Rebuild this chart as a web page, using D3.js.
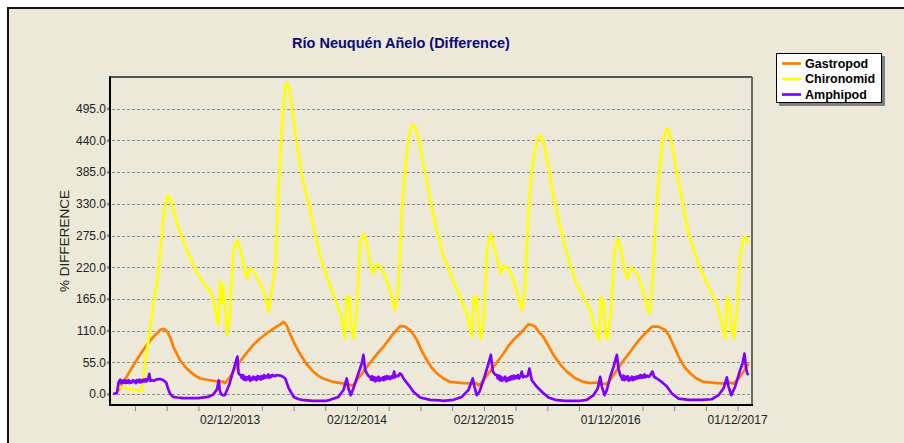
<!DOCTYPE html>
<html><head><meta charset="utf-8">
<script src="https://cdn.jsdelivr.net/npm/d3@7"></script>
<style>body{margin:0;background:#fff;} svg{display:block;}</style>
</head><body>
<svg id="c" width="904" height="443"></svg>
<script>
const title = "Río Neuquén Añelo (Difference)";
const yLabel = "% DIFFERENCE";
const seriesNames = ["Gastropod", "Chironomid", "Amphipod"];
const seriesColors = ["#FF8000", "#FFFF00", "#8000FF"];
const yTicks = [0, 55, 110, 165, 220, 275, 330, 385, 440, 495];
// x in months after 02/12/2012
const xTickMonths = [3,6,9,12,15,18,21,24,27,30,33,36,39,42,45,48,51,54,57,60];
const xLabelMonths = [12, 24, 36, 48, 60];
const xLabels = ["02/12/2013", "02/12/2014", "02/12/2015", "01/12/2016", "01/12/2017"];

const gastropod = [[1.45,5],[1.59,13],[2.22,30],[2.85,50],[3.48,68],[4.11,85],[4.74,99],[5.37,111],[5.6,113],[5.85,112],[6.1,107],[6.4,95],[6.63,82],[7.27,59],[7.8,46],[8.21,39],[8.7,32],[9.16,27],[10.1,24],[11.04,21],[11.3,22],[11.5,19],[11.7,23],[11.98,30],[12.45,43],[12.92,56],[13.55,71],[14.18,85],[14.8,96],[15.44,105],[15.9,111],[16.39,117],[16.7,120],[17.02,125],[17.2,123],[17.4,117],[17.65,105],[18.1,87],[18.6,70],[19.2,53],[19.86,39],[20.3,32],[20.8,27],[21.75,21],[22.5,19],[23.0,18],[23.35,16],[23.6,14],[23.98,24],[24.61,39],[25.1,51],[25.56,62],[26.0,72],[26.5,82],[27.0,94],[27.45,105],[27.8,112],[28.08,118],[28.55,117],[29.03,111],[29.3,104],[29.66,94],[30.1,76],[30.6,59],[31.05,46],[31.55,36],[32.2,27],[32.81,21],[34.07,19],[35.01,18],[35.3,19],[35.49,15],[35.7,18],[35.96,24],[36.4,35],[36.91,47],[37.4,59],[37.85,70],[38.3,83],[38.8,94],[39.3,103],[39.74,111],[40.0,117],[40.22,121],[40.5,120],[40.85,117],[41.2,108],[41.63,99],[42.1,84],[42.58,68],[43.2,52],[43.84,39],[44.6,28],[45.42,21],[46.05,19],[46.68,20],[47.31,18],[47.6,17],[47.94,24],[48.4,37],[48.89,50],[49.36,62],[49.84,73],[50.3,85],[50.78,96],[51.1,102],[51.41,108],[51.89,117],[52.52,117],[53.15,111],[53.5,102],[53.78,91],[54.2,74],[54.57,59],[55.0,46],[55.52,36],[56.1,27],[56.78,21],[58.04,19],[58.99,18],[59.3,20],[59.62,18],[60.1,27],[60.57,39],[61.04,53]];

const chironomid = [[1.3,2],[1.45,13],[2.0,11],[2.5,9],[3.0,7],[3.5,5],[3.64,5],[3.95,53],[4.43,111],[4.74,157],[5.12,197],[5.45,260],[5.75,315],[6.05,342],[6.2,345],[6.45,332],[6.91,301],[7.54,267],[8.17,238],[8.81,212],[9.6,189],[10.18,177],[10.49,157],[10.87,119],[11.0,160],[11.06,196],[11.18,165],[11.28,158],[11.38,188],[11.55,140],[11.73,102],[11.98,134],[12.3,249],[12.68,267],[13.03,246],[13.35,215],[13.64,200],[13.79,218],[14.27,212],[14.84,192],[15.32,169],[15.64,143],[15.95,180],[16.27,220],[16.52,330],[16.75,417],[17.0,492],[17.22,535],[17.4,540],[17.6,528],[18.18,451],[18.81,376],[19.45,330],[20.08,272],[20.51,240],[21.3,195],[22.09,157],[22.5,135],[22.88,96],[23.03,168],[23.19,157],[23.29,168],[23.41,122],[23.66,96],[23.98,145],[24.29,261],[24.61,278],[24.93,261],[25.24,226],[25.56,209],[25.87,226],[26.34,218],[26.82,197],[27.29,168],[27.61,145],[27.92,185],[28.24,318],[28.55,388],[28.87,445],[29.18,466],[29.43,466],[29.81,445],[30.29,399],[30.76,353],[31.39,295],[32.18,238],[32.97,203],[33.75,168],[34.39,140],[34.86,99],[35.02,168],[35.17,157],[35.33,168],[35.58,105],[35.74,96],[36.03,145],[36.34,261],[36.66,278],[37.07,249],[37.38,226],[37.6,209],[37.85,223],[38.33,218],[38.8,197],[39.27,168],[39.59,145],[39.9,185],[40.22,318],[40.54,388],[40.85,425],[41.2,449],[41.45,446],[41.64,438],[42.11,394],[42.58,342],[43.22,290],[43.85,244],[44.63,197],[45.42,168],[46.05,145],[46.53,111],[46.9,93],[47.03,168],[47.16,157],[47.31,163],[47.54,99],[47.72,96],[48.04,145],[48.36,249],[48.67,270],[48.99,249],[49.3,215],[49.59,200],[49.9,220],[50.47,209],[50.94,186],[51.35,157],[51.64,140],[51.89,180],[52.2,284],[52.52,370],[52.83,428],[53.15,457],[53.4,460],[53.72,440],[54.1,399],[54.73,336],[55.36,278],[56.3,226],[57.25,186],[58.04,157],[58.51,122],[58.83,96],[59.02,168],[59.14,160],[59.3,150],[59.45,110],[59.62,96],[59.93,145],[60.24,238],[60.56,272],[60.78,272],[60.97,261]];

const amphipod = [[0.95,0],[1.3,2],[1.45,20],[1.6,25],[1.7,19],[1.8,23],[1.9,20],[2.0,24],[2.1,19],[2.2,23],[2.3,20],[2.4,24],[2.5,19],[2.6,22],[2.7,20],[2.8,24],[2.9,21],[3.0,23],[3.1,19],[3.2,24],[3.3,21],[3.4,25],[3.5,20],[3.6,24],[3.7,21],[3.8,25],[3.9,22],[4.0,26],[4.1,22],[4.25,26],[4.36,35],[4.45,23],[4.6,24],[4.8,23],[5.0,25],[5.2,26],[5.4,26],[5.7,24],[5.95,20],[6.15,8],[6.35,0],[6.6,-5],[7.0,-6],[7.5,-7],[9.0,-7],[9.9,-5],[10.4,-1],[10.75,8],[10.93,24],[11.02,6],[11.15,0],[11.3,-2],[11.5,-2],[11.95,18],[12.45,50],[12.69,65],[12.8,36],[12.95,33],[13.0,33],[13.1,28],[13.2,33],[13.3,25],[13.4,30],[13.5,24],[13.6,29],[13.7,26],[13.8,31],[13.9,23],[14.0,28],[14.1,25],[14.2,30],[14.3,26],[14.4,29],[14.5,24],[14.6,31],[14.7,27],[14.8,30],[14.9,25],[15.0,31],[15.1,27],[15.2,33],[15.3,28],[15.4,31],[15.5,29],[15.6,34],[15.7,28],[15.8,32],[15.9,30],[16.0,33],[16.2,31],[16.43,33],[16.75,32],[17.0,30],[17.22,27],[17.54,10],[18.02,-5],[18.5,-9],[18.81,-10],[19.76,-12],[21.0,-12],[21.46,-10],[22.24,-5],[22.72,7],[23.03,27],[23.19,10],[23.41,-2],[23.66,10],[24.14,36],[24.45,53],[24.61,68],[24.77,42],[24.93,36],[25.1,31],[25.24,30],[25.35,25],[25.45,31],[25.55,24],[25.65,29],[25.75,22],[25.85,28],[25.95,24],[26.05,30],[26.15,23],[26.25,27],[26.35,25],[26.45,29],[26.55,24],[26.65,30],[26.75,26],[26.85,31],[26.95,27],[27.05,30],[27.15,26],[27.3,31],[27.4,28],[27.51,39],[27.6,29],[27.75,32],[27.9,31],[28.05,36],[28.24,33],[28.4,27],[28.87,16],[29.34,4],[29.97,-6],[30.92,-10],[31.9,-11],[32.18,-12],[33.12,-10],[33.91,-5],[34.54,7],[34.95,27],[35.11,13],[35.33,-2],[35.58,4],[35.96,24],[36.44,53],[36.66,68],[36.85,39],[37.05,34],[37.22,33],[37.32,27],[37.42,32],[37.52,24],[37.62,30],[37.72,23],[37.82,28],[37.92,25],[38.02,30],[38.12,22],[38.22,27],[38.32,24],[38.42,29],[38.52,25],[38.62,31],[38.72,26],[38.82,32],[38.92,27],[39.02,31],[39.12,28],[39.22,33],[39.32,27],[39.45,31],[39.59,39],[39.7,29],[39.85,31],[40.0,30],[40.15,32],[40.31,44],[40.53,24],[41.0,13],[41.48,4],[42.11,-6],[42.74,-10],[43.69,-12],[44.95,-12],[45.74,-10],[46.37,-2],[46.78,10],[47.0,30],[47.16,13],[47.41,-2],[47.63,7],[47.95,30],[48.26,47],[48.58,68],[48.73,44],[48.9,33],[48.99,30],[49.1,25],[49.2,32],[49.3,24],[49.4,30],[49.5,26],[49.6,31],[49.7,23],[49.8,28],[49.9,25],[50.0,30],[50.1,24],[50.2,29],[50.3,26],[50.4,30],[50.5,27],[50.6,31],[50.7,28],[50.8,33],[50.9,28],[51.0,32],[51.1,29],[51.2,34],[51.3,29],[51.45,32],[51.6,30],[51.75,33],[51.95,39],[52.1,30],[52.36,27],[52.83,21],[53.31,13],[53.78,1],[54.41,-8],[55.36,-10],[56.62,-10],[57.56,-9],[58.19,-2],[58.67,10],[58.98,29],[59.14,13],[59.4,-2],[59.77,13],[60.24,42],[60.47,53],[60.65,70],[60.78,47],[60.9,36],[61.03,33]];

const seriesData = [gastropod, chironomid, amphipod];

const svg = d3.select("#c");
const W = 904, H = 443;
const L = 110, R = 752, T = 77, B = 405;
const FONT = "Liberation Sans, Arial, sans-serif";

// background & outer frame
svg.append("rect").attr("x", 0).attr("y", 0).attr("width", W).attr("height", H).attr("fill", "#fff");
svg.append("rect").attr("x", 8).attr("y", 8).attr("width", W).attr("height", H).attr("fill", "#ECE9D8")
  .attr("stroke", "#111").attr("stroke-width", 2);

const x = d3.scaleLinear().domain([0.64, 61.36]).range([L, R]);
const y = d3.scaleLinear().domain([-19, 550]).range([B, T]);

// title
svg.append("text").attr("x", 401).attr("y", 48).attr("text-anchor", "middle")
  .attr("font-family", FONT).attr("font-weight", "bold")
  .attr("font-size", 14.5).attr("fill", "#0A0A7A").text(title);

// gridlines
svg.append("g").selectAll("line").data(yTicks).join("line")
  .attr("x1", L + 2).attr("x2", R).attr("y1", d => Math.round(y(d)) + 0.5).attr("y2", d => Math.round(y(d)) + 0.5)
  .attr("stroke", "#8a8a8a").attr("stroke-width", 1).attr("stroke-dasharray", "3,2");

// y axis via d3
const yAxis = d3.axisLeft(y).tickValues(yTicks).tickFormat(d3.format(".1f")).tickSize(0).tickPadding(4);
const gy = svg.append("g").attr("transform", `translate(${L},0)`).call(yAxis);
gy.select(".domain").remove();
gy.selectAll("text").attr("font-family", FONT).attr("font-size", 12).attr("fill", "#222");
svg.append("g").selectAll("rect").data(yTicks).join("rect")
  .attr("x", L - 3).attr("y", d => y(d) - 1).attr("width", 3).attr("height", 2.5).attr("fill", "#888");

// x axis
const xAxis = d3.axisBottom(x).tickValues(xTickMonths).tickSize(5).tickFormat(() => "");
const gx = svg.append("g").attr("transform", `translate(0,${B + 1})`).call(xAxis);
gx.select(".domain").remove();
gx.selectAll("line").attr("stroke", "#888");
svg.append("g").selectAll("text").data(xLabelMonths).join("text")
  .attr("x", d => x(d)).attr("y", 424).attr("text-anchor", "middle")
  .attr("font-family", FONT).attr("font-size", 12).attr("fill", "#222")
  .text((d, i) => xLabels[i]);

// y label
svg.append("text").attr("transform", `translate(69,${(T + B) / 2}) rotate(-90)`).attr("text-anchor", "middle")
  .attr("font-family", FONT).attr("font-size", 13.5).attr("fill", "#222").text(yLabel);

// clip
svg.append("clipPath").attr("id", "clip").append("rect").attr("x", L + 1).attr("y", T).attr("width", R - L - 1).attr("height", B - T);

const line = d3.line().x(d => x(d[0])).y(d => y(d[1]));
const gl = svg.append("g").attr("clip-path", "url(#clip)");
seriesData.forEach((s, i) => {
  gl.append("path").datum(s).attr("d", line).attr("fill", "none")
    .attr("stroke", seriesColors[i]).attr("stroke-width", 2.7).attr("stroke-linejoin", "round");
});

// plot frame
svg.append("line").attr("x1", L).attr("x2", R).attr("y1", T).attr("y2", T).attr("stroke", "#222").attr("stroke-width", 1.5);
svg.append("line").attr("x1", R).attr("x2", R).attr("y1", T).attr("y2", B).attr("stroke", "#666").attr("stroke-width", 2);
svg.append("line").attr("x1", L).attr("x2", L).attr("y1", T - 0.75).attr("y2", B + 1).attr("stroke", "#000").attr("stroke-width", 2);
svg.append("line").attr("x1", L - 1).attr("x2", R + 1).attr("y1", B).attr("y2", B).attr("stroke", "#000").attr("stroke-width", 2);

// legend
const lg = svg.append("g");
lg.append("rect").attr("x", 779).attr("y", 56).attr("width", 106).attr("height", 50).attr("fill", "#808080");
lg.append("rect").attr("x", 776.5).attr("y", 53.5).attr("width", 105).attr("height", 49).attr("fill", "#fff").attr("stroke", "#000").attr("stroke-width", 1);
const rowsY = [63.5, 79, 94.5];
seriesNames.forEach((n, i) => {
  lg.append("line").attr("x1", 782).attr("x2", 801).attr("y1", rowsY[i]).attr("y2", rowsY[i])
    .attr("stroke", seriesColors[i]).attr("stroke-width", 2.7);
  lg.append("text").attr("x", 805).attr("y", rowsY[i] + 4).attr("font-family", FONT)
    .attr("font-weight", "bold").attr("font-size", 12.5).attr("fill", "#000").text(n);
});
</script>
</body></html>
